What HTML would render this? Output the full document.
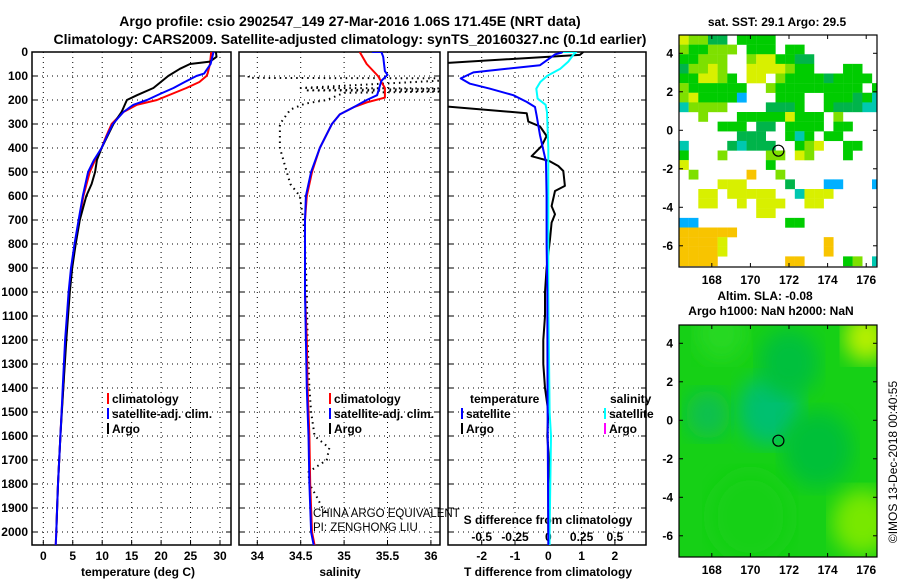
<!DOCTYPE html>
<html><head><meta charset="utf-8"><style>
html,body{margin:0;padding:0;background:#fff}
svg{display:block;font-family:"Liberation Sans",sans-serif}
.t{font-weight:bold;font-size:12px}
</style></head><body>
<svg id="s" width="900" height="580" viewBox="0 0 900 580" xmlns="http://www.w3.org/2000/svg">
<defs>
<clipPath id="c1"><rect x="32" y="52" width="199" height="493"/></clipPath>
<clipPath id="c2"><rect x="239" y="52" width="201" height="493"/></clipPath>
<clipPath id="c3"><rect x="448" y="52" width="198" height="493"/></clipPath>
<clipPath id="cm1"><rect x="679" y="35" width="198" height="232"/></clipPath>
<clipPath id="cm2"><rect x="679" y="325" width="198" height="232"/></clipPath>
<filter id="blur"><feGaussianBlur stdDeviation="10"/></filter>
</defs>
<text x="350" y="26" text-anchor="middle" font-size="14" font-weight="bold">Argo profile: csio 2902547_149 27-Mar-2016 1.06S 171.45E (NRT data)</text>
<text x="350" y="44" text-anchor="middle" font-size="14" font-weight="bold">Climatology: CARS2009. Satellite-adjusted climatology: synTS_20160327.nc (0.1d earlier)</text>
<g id="g"></g>
</svg>
<script>
// ---- data ----
const depthTicks=[0,100,200,300,400,500,600,700,800,900,1000,1100,1200,1300,1400,1500,1600,1700,1800,1900,2000];
const tempTicks=[0,5,10,15,20,25,30];
const salTicks=[34,34.5,35,35.5,36];
const tdiffTicks=[-2,-1,0,1,2];
const sdiffTickLabels=["-0.5","-0.25","0","0.25","0.5"];
const sdiffTicks=[-0.5,-0.25,0,0.25,0.5];

const tDepth=[0,50,90,100,125,150,175,200,220,250,300,350,400,450,500,600,700,800,900,1000,1100,1200,1300,1400,1500,1600,1700,1800,1900,2000,2055];
const climT=[28.5,28.3,27.9,27.7,26.5,24.3,21.8,19.3,15.9,13.6,11.6,10.7,9.9,8.8,7.9,6.8,6.1,5.4,4.8,4.4,4.1,3.8,3.6,3.4,3.1,2.9,2.7,2.5,2.35,2.2,2.1];
const satT=[28.9,28.4,27.3,26.0,24.0,22.1,19.8,17.6,15.3,13.6,11.8,10.8,9.9,8.6,7.6,6.7,6.0,5.3,4.7,4.3,4.0,3.7,3.5,3.3,3.1,2.9,2.7,2.5,2.35,2.2,2.1];
const argoTDepth=[0,20,40,50,70,100,150,180,200,250,300,400,450,500,550,600,700,800,900,1000,1200,1400,1600,1800,2000];
const argoT=[29.3,29.4,28.3,24.9,23.2,21.2,18.7,15.9,14.2,13.3,11.9,9.9,9.1,8.8,8.2,7.3,6.2,5.5,4.9,4.5,3.9,3.4,2.9,2.5,2.2];

const sDepth=[0,50,100,150,190,210,230,260,300,400,500,600,700,800,1000,1200,1400,1600,1800,2000,2055];
const climS=[35.18,35.26,35.39,35.47,35.47,35.26,35.11,34.95,34.86,34.72,34.63,34.57,34.55,34.55,34.55,34.57,34.58,34.6,34.61,34.63,34.66];
const satSDepth=[0,0,20,80,95,120,180,200,230,260,300,400,500,600,700,800,1000,1200,1400,1600,1800,2000,2055];
const satS=[35.32,35.43,35.45,35.47,35.5,35.43,35.38,35.26,35.11,34.95,34.86,34.72,34.62,34.56,34.55,34.55,34.55,34.56,34.57,34.59,34.6,34.62,34.65];
const argoSDepth=[100,108,110,150,152,160,163,170,200,215,240,300,400,500,550,600,700,800,1000,1200,1400,1500,1600,1650,1700,1750,1800,1850,1900,1920];
const argoS=[33.9,33.9,36.6,34.5,36.6,34.55,36.6,35.0,34.8,34.55,34.38,34.26,34.26,34.34,34.38,34.49,34.53,34.55,34.57,34.58,34.6,34.62,34.66,34.83,34.8,34.59,34.6,34.68,34.75,34.8];

const argoTdDepth=[0,12,50,100,200,221,255,290,310,350,392,434,454,475,496,558,579,642,676,711,780,900,1000,1100,1200,1300,1400,1500,1600,1700,1800,1900,2000];
const argoTd=[1.05,0.95,-3.6,-6.5,-5,-3.6,-0.65,-0.6,-0.25,-0.05,-0.2,-0.5,0.03,0.3,0.45,0.5,0.2,0.1,0.2,0.1,0.05,-0.05,-0.1,-0.1,-0.15,-0.15,-0.1,0,-0.03,0.02,0,0,0];
const satTdDepth=[0,3,10,55,70,85,110,132,153,180,208,229,264,347,458,600,800,1000,1500,2000,2055];
const satTd=[0.4,0.4,0.2,-0.25,-1.25,-2.25,-2.63,-2.35,-1.75,-1.05,-0.65,-0.4,-0.35,-0.25,-0.07,-0.05,-0.05,-0.03,-0.02,0,0];
const satSdDepth=[0,0,10,40,70,100,125,153,194,220,250,400,1000,1500,1600,2000,2055];
const satSd=[0.11,0.21,0.19,0.15,0.09,-0.01,-0.06,-0.09,-0.08,-0.02,-0.01,0,0,0.01,0.02,0.01,0.01];

const latTicks=[4,2,0,-2,-4,-6];
const lonTicks=[168,170,172,174,176];
const argoLon=171.45, argoLat=-1.06;
// SST patch map, rows of 0.5deg cells from lat 4.95 southwards, lon 166.3 eastwards
const sstRows=[
"ylldd.gggg...........",
"lgglll.ggg.gg........",
"gglll..lyyggdd.......",
"dllyl..yyyylgg...gg..",
"ggyylg.yy.lggggdgggg.",
"lgggggg..lggggggggg.g",
"lyggggb...ggg..gggdgc",
"cllll....dddg..gdddcc",
"..l...gggggyggg.l....",
"....ggg.dd.gggg.gg...",
"......ddd..gcg.gg....",
"c....dcddd..gly..gg..",
"g...l....ll.yl...g...",
"y........g...........",
".l.....o..l..........",
"....yyy....d...bb...b",
"..yy.yyyyy..cyyy.....",
"..yy..y.yyy..yy......",
"........yy...........",
"bb.........gg........",
"oooooo...............",
"ooooy..........o.....",
"ooooy..........o.....",
"oooo.......oo....gl.c"];
const sstColors={g:"#00cc00",d:"#00b44a",l:"#7ee000",y:"#d8f000",o:"#f8c400",c:"#00c8b0",b:"#00b0ff"};

// ---- scales ----
const dY=d=>52+d*0.24;
const xT=v=>43.3+v*5.89;
const xS=v=>257.3+(v-34)*86.8;
const xTd=v=>548.3+v*33.3;
const xSd=v=>548.3+v*133.2;
const mX=l=>679+(l-166.3)*19.3;
const mY1=l=>35+(4.95-l)*19.25;
const mY2=l=>325+(4.95-l)*19.25;

const NS="http://www.w3.org/2000/svg";
const root=document.getElementById('g');
function el(tag,attrs,parent,txt){const e=document.createElementNS(NS,tag);for(const k in attrs)e.setAttribute(k,attrs[k]);if(txt!==undefined)e.textContent=txt;(parent||root).appendChild(e);return e;}

function panel(x0,x1,clip,xticks,xf,name){
  const grp=el('g',{});
  
  
  depthTicks.forEach(d=>{
    const ln=el('line',{x1:x0,x2:x1,y1:dY(d),y2:dY(d),stroke:'#000','stroke-width':1,'stroke-dasharray':'1,4'},grp);
    
    
    el('line',{x1:x0,x2:x0+5,y1:dY(d),y2:dY(d),stroke:'#000'},grp);
    el('line',{x1:x1-5,x2:x1,y1:dY(d),y2:dY(d),stroke:'#000'},grp);
  });
  xticks.forEach(v=>{
    const ln=el('line',{x1:xf(v),x2:xf(v),y1:52,y2:545,stroke:'#000','stroke-width':1,'stroke-dasharray':'1,4'},grp);
    
    
    el('line',{x1:xf(v),x2:xf(v),y1:545,y2:540,stroke:'#000'},grp);
  });
  const fr=el('rect',{x:x0,y:52,width:x1-x0,height:493,fill:'none',stroke:'#000','stroke-width':1.5},grp);
  
  
  return grp;
}
function line(xs,ds,xf,color,clip,name,dash,w){
  const pts=xs.map((v,i)=>xf(v).toFixed(1)+','+dY(ds[i]).toFixed(1)).join(' ');
  const p=el('polyline',{points:pts,fill:'none',stroke:color,'stroke-width':w||2,'clip-path':'url(#'+clip+')','stroke-linejoin':'round'});
  if(dash)p.setAttribute('stroke-dasharray',dash);
  
  
}
function txt(x,y,s,opts,name){
  const t=el('text',Object.assign({x:x,y:y},opts||{}),null,s);
  
  
  return t;
}

// panels
panel(32,231,'c1',tempTicks,xT,'temperature-panel');
panel(239,440,'c2',salTicks,xS,'salinity-panel');
panel(448,646,'c3',tdiffTicks,xTd,'difference-panel');

depthTicks.forEach(d=>{txt(28,dY(d)+4,String(d),{'text-anchor':'end',class:'t'},'depth-tick-label');});
tempTicks.forEach(v=>{txt(xT(v),560,String(v),{'text-anchor':'middle',class:'t'},'temperature-tick-label');});
salTicks.forEach(v=>{txt(xS(v),560,String(v),{'text-anchor':'middle',class:'t'},'salinity-tick-label');});
tdiffTicks.forEach(v=>{txt(xTd(v),560,String(v),{'text-anchor':'middle',class:'t'},'tdiff-tick-label');});
sdiffTicks.forEach((v,i)=>{txt(xSd(v),541,sdiffTickLabels[i],{'text-anchor':'middle',class:'t'},'sdiff-tick-label');});
txt(138,576,'temperature (deg C)',{'text-anchor':'middle',class:'t'},'x-axis-title-temperature');
txt(340,576,'salinity',{'text-anchor':'middle',class:'t'},'x-axis-title-salinity');
txt(548,576,'T difference from climatology',{'text-anchor':'middle',class:'t'},'x-axis-title-tdiff');
txt(548,524,'S difference from climatology',{'text-anchor':'middle',class:'t'},'sdiff-axis-title');

// series
line(climT,tDepth,xT,'#ff0000','c1','temp-climatology-line');
line(argoT,argoTDepth,xT,'#000','c1','temp-argo-line');
line(satT,tDepth,xT,'#0000ff','c1','temp-satellite-line');
line(argoS,argoSDepth,xS,'#000','c2','salinity-argo-line','1.5,4',2);
line(climS,sDepth,xS,'#ff0000','c2','salinity-climatology-line');
line(satS,satSDepth,xS,'#0000ff','c2','salinity-satellite-line');
line(argoTd,argoTdDepth,xTd,'#000','c3','tdiff-argo-line');
line(satSd,satSdDepth,xSd,'#00ffff','c3','sdiff-satellite-line');
line(satTd,satTdDepth,xTd,'#0000ff','c3','tdiff-satellite-line');

// legends
function leg(x,y,color,label,name){
  const g=el('g',{});
  
  
  el('rect',{x:x,y:y-10,width:2,height:11,fill:color},g);
  el('text',{x:x+5,y:y,class:'t'},g,label);
}
leg(107,403,'#ff0000','climatology','legend-temp-climatology');
leg(107,418,'#0000ff','satellite-adj. clim.','legend-temp-satellite');
leg(107,433,'#000','Argo','legend-temp-argo');
leg(329,403,'#ff0000','climatology','legend-sal-climatology');
leg(329,418,'#0000ff','satellite-adj. clim.','legend-sal-satellite');
leg(329,433,'#000','Argo','legend-sal-argo');
txt(470,403,'temperature',{class:'t'},'legend-temperature-heading');
txt(610,403,'salinity',{class:'t'},'legend-salinity-heading');
leg(461,418,'#0000ff','satellite','legend-tdiff-satellite');
leg(461,433,'#000','Argo','legend-tdiff-argo');
leg(604,418,'#00ffff','satellite','legend-sdiff-satellite');
leg(604,433,'#ff00ff','Argo','legend-sdiff-argo');
txt(313,517,'CHINA ARGO EQUIVALENT',{'font-size':'11.5'},'institution-label');
txt(313,531,'PI: ZENGHONG LIU',{'font-size':'11.5'},'pi-label');

// maps
function mapAxes(yf,y0,name){
  const fr=el('rect',{x:679,y:y0,width:198,height:232,fill:'none',stroke:'#000','stroke-width':1.2});
  
  
  latTicks.forEach(l=>{
    txt(673,yf(l)+4,String(l),{'text-anchor':'end',class:'t'},name+'-lat-label');
    el('line',{x1:679,x2:683,y1:yf(l),y2:yf(l),stroke:'#000'});
    el('line',{x1:873,x2:877,y1:yf(l),y2:yf(l),stroke:'#000'});
  });
  lonTicks.forEach(l=>{
    txt(mX(l),y0+249,String(l),{'text-anchor':'middle',class:'t'},name+'-lon-label');
    el('line',{x1:mX(l),x2:mX(l),y1:y0+232,y2:y0+228,stroke:'#000'});
    el('line',{x1:mX(l),x2:mX(l),y1:y0,y2:y0+4,stroke:'#000'});
  });
  const c=el('circle',{cx:mX(argoLon),cy:yf(argoLat),r:5.5,fill:'none',stroke:'#000','stroke-width':1.2});
  
  
}
// SST map cells
const sstG=el('g',{'clip-path':'url(#cm1)'});


sstRows.forEach((row,r)=>{
  for(let c=0;c<row.length;c++){
    const k=row[c]; if(k==='.')continue;
    const lon=166.3+c*0.5, lat=4.95-r*0.5;
    const rc=el('rect',{x:mX(lon),y:mY1(lat),width:9.8,height:9.8,fill:sstColors[k]},sstG);
    
    
  }
});
mapAxes(mY1,35,'sst-map');
txt(777,26,'sat. SST: 29.1 Argo: 29.5',{'text-anchor':'middle',class:'t'},'sst-map-title');

// SLA map
const slaG=el('g',{'clip-path':'url(#cm2)'});


el('rect',{x:679,y:325,width:198,height:232,fill:'#16d016'},slaG);
const blobs=[[171,0.5,32,'#00c070'],[167.8,0.3,22,'#10c050'],[173.5,-1.5,35,'#00c038'],[172,3,30,'#00c03c'],[176,4.3,22,'#b8f000'],[175.8,-5.3,30,'#78e800'],[170,-5,40,'#14d014'],[168.5,4.5,25,'#28d820']];
blobs.forEach(b=>{
  const e=el('ellipse',{cx:mX(b[0]),cy:mY2(b[1]),rx:b[2],ry:b[2]*1.1,fill:b[3],filter:'url(#blur)'},slaG);
  
  
});
mapAxes(mY2,325,'sla-map');
txt(765,300,'Altim. SLA: -0.08',{'text-anchor':'middle',class:'t'},'sla-map-title');
txt(771,315,'Argo h1000: NaN h2000: NaN',{'text-anchor':'middle',class:'t'},'sla-map-subtitle');
txt(897,462,'©IMOS 13-Dec-2018 00:40:55',{'text-anchor':'middle','font-size':'12',transform:'rotate(-90 897 462)'},'copyright-label');
</script>
</body></html>
